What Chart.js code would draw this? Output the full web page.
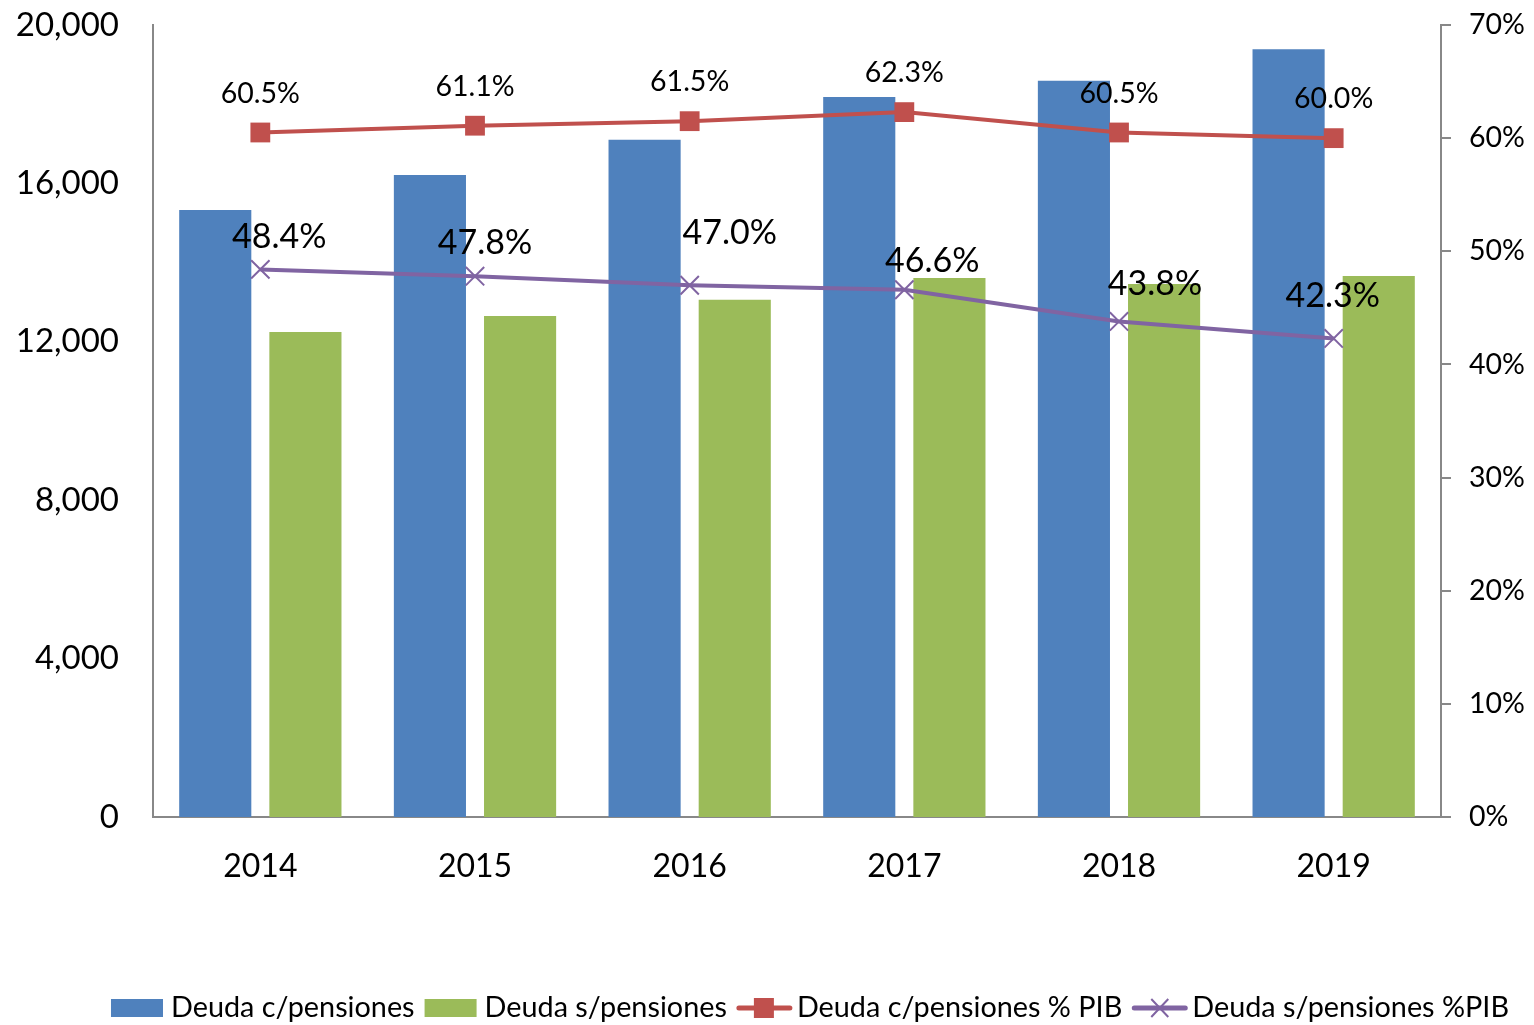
<!DOCTYPE html>
<html>
<head>
<meta charset="utf-8">
<script src="https://cdn.jsdelivr.net/npm/chart.js@4/dist/chart.umd.min.js"></script>
<style>
html,body{margin:0;padding:0;background:#fff;}
#wrap{width:1534px;height:1025px;}
</style>
</head>
<body>
<div id="wrap"><canvas id="c" width="1534" height="1025"></canvas></div>
<script>
const categories = ['2014', '2015', '2016', '2017', '2018', '2019'];
const deudaCon = [15330, 16210, 17100, 18180, 18590, 19390];
const deudaSin = [12250, 12650, 13060, 13610, 13460, 13660];
const pctCon = [60.5, 61.1, 61.5, 62.3, 60.5, 60.0];
const pctSin = [48.4, 47.8, 47.0, 46.6, 43.8, 42.3];
const leftTicks = [0, 4000, 8000, 12000, 16000, 20000];
const rightTicks = [0, 10, 20, 30, 40, 50, 60, 70];

const FONT = 'Lato, "Noto Sans", sans-serif';
const BLUE = '#4F81BD', GREEN = '#9BBB59', RED = '#C0504D', PURPLE = '#8064A2';
const AXIS = '#888888';

// label offsets (pixels) for the data labels of the two % series
const redLabelOffsets = [[0,-39],[0,-39],[0,-39],[0,-39],[0,-39],[0,-39]];
const purpleLabelOffsets = [[19,-32],[10,-33],[40,-52],[28,-29],[36,-37],[-1,-42]];

function drawIcon(g, kind, color, x, cy) {
  if (kind === 'bar') {
    g.fillStyle = color; g.fillRect(x, cy - 9, 52, 18);
  } else {
    g.strokeStyle = color; g.lineWidth = 5; g.lineCap = 'round';
    g.beginPath(); g.moveTo(x + 2, cy); g.lineTo(x + 53, cy); g.stroke();
    if (kind === 'rect') {
      g.fillStyle = color; g.fillRect(x + 17, cy - 10, 20, 20);
    } else {
      g.lineWidth = 2; g.lineCap = 'butt';
      g.beginPath(); g.moveTo(x + 19, cy - 9); g.lineTo(x + 36, cy + 9); g.moveTo(x + 36, cy - 9); g.lineTo(x + 19, cy + 9); g.stroke();
    }
  }
}

const legendPlugin = {
  id: 'customLegend',
  afterDraw(chart) {
    const ctx = chart.ctx;
    const items = [
      { ds: 2, kind: 'bar', color: BLUE },
      { ds: 3, kind: 'bar', color: GREEN },
      { ds: 0, kind: 'rect', color: RED },
      { ds: 1, kind: 'cross', color: PURPLE }
    ];
    ctx.save();
    ctx.font = '28.8px ' + FONT;
    ctx.textBaseline = 'middle';
    ctx.textAlign = 'left';
    ctx.fillStyle = '#000';
    const boxW = 54, gapText = 6, gapItem = 10;
    let total = 0;
    items.forEach((it, k) => {
      it.text = chart.data.datasets[it.ds].label;
      it.w = ctx.measureText(it.text).width;
      total += boxW + gapText + it.w + (k < items.length - 1 ? gapItem : 0);
    });
    let x = 810 - total / 2;
    const cy = 1008;
    items.forEach(it => {
      drawIcon(ctx, it.kind, it.color, x, cy);
      x += boxW + gapText;
      ctx.fillStyle = '#000';
      ctx.fillText(it.text, x, cy);
      x += it.w + gapItem;
    });
    ctx.restore();
  }
};

const labelPlugin = {
  id: 'pctLabels',
  afterDatasetsDraw(chart) {
    const ctx = chart.ctx;
    const x = chart.scales.x, y2 = chart.scales.y2;
    ctx.save();
    ctx.fillStyle = '#000';
    ctx.textAlign = 'center';
    ctx.textBaseline = 'middle';
    ctx.font = '28.5px ' + FONT;
    pctCon.forEach((v, i) => {
      const px = x.getPixelForValue(i), py = y2.getPixelForValue(v);
      ctx.fillText(v.toFixed(1) + '%', px + redLabelOffsets[i][0], py + redLabelOffsets[i][1]);
    });
    ctx.font = '34px ' + FONT;
    pctSin.forEach((v, i) => {
      const px = x.getPixelForValue(i), py = y2.getPixelForValue(v);
      ctx.fillText(v.toFixed(1) + '%', px + purpleLabelOffsets[i][0], py + purpleLabelOffsets[i][1]);
    });
    ctx.restore();
  }
};

const chart = new Chart(document.getElementById('c'), {
  data: {
    labels: categories,
    datasets: [
      { type: 'line', label: 'Deuda c/pensiones % PIB', data: pctCon, yAxisID: 'y2', order: 1,
        borderColor: RED, backgroundColor: RED, borderWidth: 4, pointStyle: 'rect', pointRadius: 14,
        pointBackgroundColor: RED, pointBorderColor: RED, pointBorderWidth: 0, tension: 0 },
      { type: 'line', label: 'Deuda s/pensiones %PIB', data: pctSin, yAxisID: 'y2', order: 0,
        borderColor: PURPLE, backgroundColor: PURPLE, borderWidth: 4, pointStyle: 'crossRot', pointRadius: 13,
        pointBorderColor: PURPLE, pointBorderWidth: 2, tension: 0 },
      { type: 'bar', label: 'Deuda c/pensiones', data: deudaCon, yAxisID: 'y', order: 2,
        backgroundColor: BLUE, categoryPercentage: 0.84, barPercentage: 0.8 },
      { type: 'bar', label: 'Deuda s/pensiones', data: deudaSin, yAxisID: 'y', order: 3,
        backgroundColor: GREEN, categoryPercentage: 0.84, barPercentage: 0.8 }
    ]
  },
  options: {
    responsive: false,
    animation: false,
    layout: { padding: { top: 25, left: 0, right: 0, bottom: 0 } },
    plugins: {
      tooltip: { enabled: false },
      legend: { display: false }
    },
    scales: {
      x: {
        type: 'category',
        offset: true,
        grid: { display: false, drawTicks: false },
        border: { display: true, color: AXIS, width: 2 },
        ticks: { color: '#000', font: { family: FONT, size: 32 }, padding: 30 },
        afterFit(s) { s.height = 1025 - 817; s.paddingLeft = 0; s.paddingRight = 0; }
      },
      y: {
        position: 'left',
        min: 0, max: 20000,
        afterBuildTicks(s) { s.ticks = leftTicks.map(v => ({ value: v })); },
        grid: { display: false, drawTicks: false },
        border: { display: true, color: AXIS, width: 2 },
        ticks: { color: '#000', font: { family: FONT, size: 33 }, padding: 34,
          callback: v => v.toLocaleString('en-US') },
        afterFit(s) { s.width = 153; s.paddingTop = 0; s.paddingBottom = 0; }
      },
      y2: {
        position: 'right',
        min: 0, max: 70,
        afterBuildTicks(s) { s.ticks = rightTicks.map(v => ({ value: v })); },
        grid: { display: true, drawOnChartArea: false, drawTicks: true, tickLength: 10, color: AXIS, lineWidth: 2 },
        border: { display: true, color: AXIS, width: 2 },
        ticks: { color: '#000', font: { family: FONT, size: 28.5 }, padding: 18,
          callback: v => v + '%' },
        afterFit(s) { s.width = 93; s.paddingTop = 0; s.paddingBottom = 0; }
      }
    }
  },
  plugins: [labelPlugin, legendPlugin]
});
</script>
</body>
</html>
